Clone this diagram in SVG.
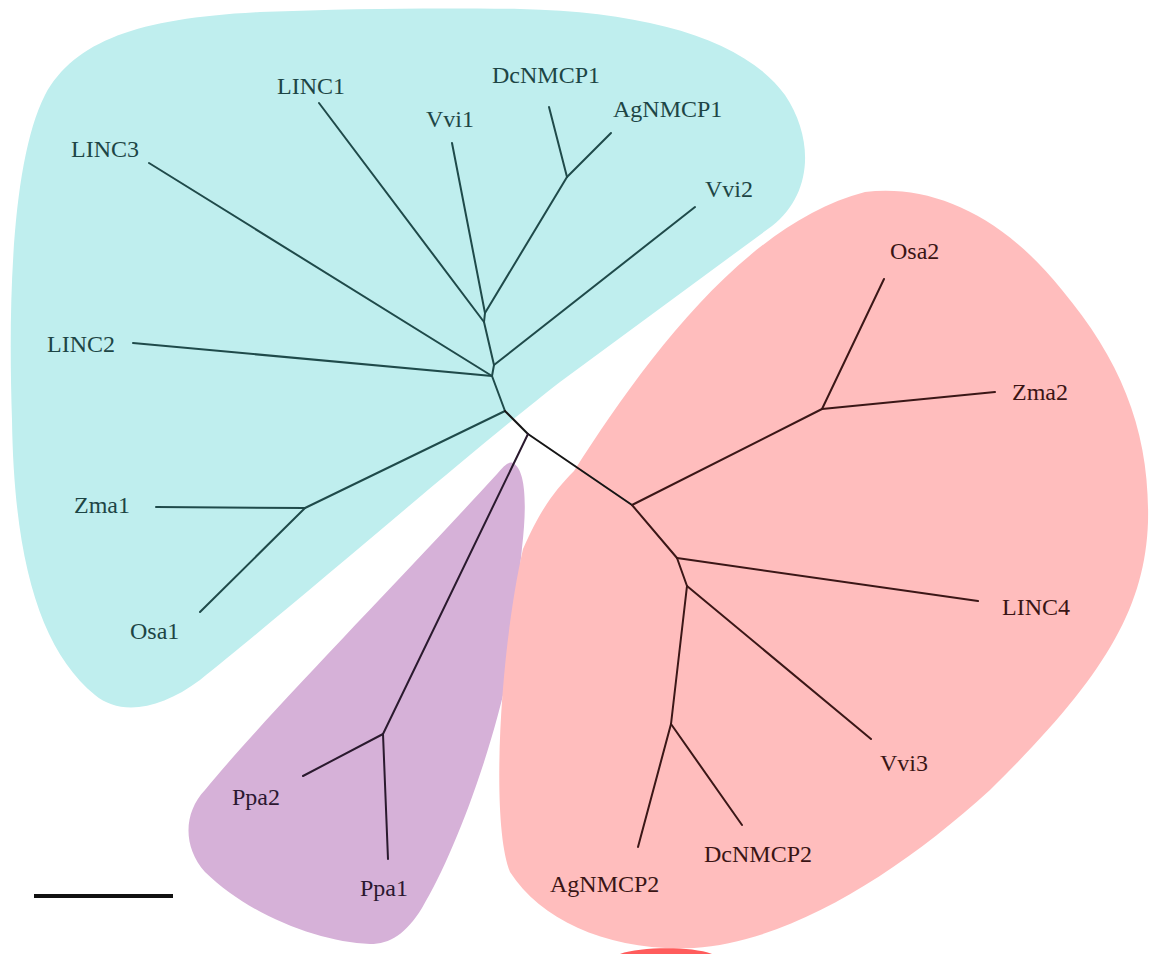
<svg xmlns="http://www.w3.org/2000/svg" width="1150" height="954" viewBox="0 0 1150 954">
<style>
.lbl{font-family:"Liberation Serif","Times New Roman",serif;font-size:24px}
.c{fill:#1d4545}
.r{fill:#3a1515}
.p{fill:#2b1830}
.e{fill:none;stroke-width:2;stroke-linecap:round}
.ec{stroke:#1f4a4a}
.er{stroke:#3b1717}
.ep{stroke:#2a1a2e}
.ek{stroke:#151515}
</style>
<rect width="1150" height="954" fill="#ffffff"/>
<g id="clades">
<path id="cyan-clade" fill="#bfeeee" d="M12,420 C8,300 12,160 45,95 C75,40 140,18 260,12 C360,8 450,8 520,9 C650,12 745,40 785,95 C815,140 812,195 772,226 L560,382 C470,452 300,600 200,680 C160,710 120,716 95,695 C40,650 14,560 12,420 Z"/>
<path id="purple-clade" fill="#d6b1d8" d="M513,463 C526,470 527,505 522,548 L510,665 C490,760 452,858 422,908 C406,934 390,944 370,944 C320,942 250,916 205,872 C182,846 184,812 205,790 C262,720 400,580 497,474 C503,467 508,461 513,463 Z"/>
<path id="red-clade" fill="#ffbdbd" d="M574,471 C640,368 742,224 865,192 C932,184 1002,215 1062,290 C1122,362 1150,432 1148,522 C1145,612 1100,682 990,790 C900,872 790,942 694,948 C612,952 542,922 510,872 C490,822 500,650 523,549 C540,510 555,490 574,471 Z"/>
<path fill="#ff5c5c" d="M620,954 C640,947 690,946 712,954 Z"/>
</g>
<g id="connectors">
<line class="e ec" x1="549" y1="107" x2="567" y2="177"/>
<line class="e ec" x1="611" y1="133" x2="567" y2="177"/>
<line class="e ec" x1="567" y1="177" x2="485" y2="313"/>
<line class="e ec" x1="452" y1="143" x2="485" y2="313"/>
<line class="e ec" x1="485" y1="313" x2="484" y2="322"/>
<line class="e ec" x1="319" y1="103" x2="484" y2="322"/>
<line class="e ec" x1="484" y1="322" x2="494" y2="365"/>
<line class="e ec" x1="695" y1="207" x2="494" y2="365"/>
<line class="e ec" x1="494" y1="365" x2="492" y2="376"/>
<line class="e ec" x1="149" y1="163" x2="492" y2="376"/>
<line class="e ec" x1="133" y1="343" x2="492" y2="376"/>
<line class="e ec" x1="492" y1="376" x2="505" y2="411"/>
<line class="e ec" x1="505" y1="411" x2="305" y2="508"/>
<line class="e ec" x1="156" y1="507" x2="305" y2="508"/>
<line class="e ec" x1="200" y1="612" x2="305" y2="508"/>
<line class="e ek" x1="505" y1="411" x2="528" y2="434"/>
<line class="e ek" x1="528" y1="434" x2="632" y2="505"/>
<line class="e ep" x1="528" y1="434" x2="383" y2="734"/>
<line class="e ep" x1="303" y1="776" x2="383" y2="734"/>
<line class="e ep" x1="388" y1="859" x2="383" y2="734"/>
<line class="e er" x1="632" y1="505" x2="822" y2="409"/>
<line class="e er" x1="884" y1="279" x2="822" y2="409"/>
<line class="e er" x1="995" y1="392" x2="822" y2="409"/>
<line class="e er" x1="632" y1="505" x2="677" y2="558"/>
<line class="e er" x1="978" y1="601" x2="677" y2="558"/>
<line class="e er" x1="677" y1="558" x2="687" y2="586"/>
<line class="e er" x1="871" y1="739" x2="687" y2="586"/>
<line class="e er" x1="687" y1="586" x2="671" y2="724"/>
<line class="e er" x1="638" y1="847" x2="671" y2="724"/>
<line class="e er" x1="742" y1="825" x2="671" y2="724"/>
</g>
<g id="LINC1"><text class="lbl c" x="277" y="94">LINC1</text></g>
<g id="DcNMCP1"><text class="lbl c" x="492" y="83">DcNMCP1</text></g>
<g id="AgNMCP1"><text class="lbl c" x="613" y="117">AgNMCP1</text></g>
<g id="Vvi1"><text class="lbl c" x="426" y="127">Vvi1</text></g>
<g id="LINC3"><text class="lbl c" x="71" y="157">LINC3</text></g>
<g id="Vvi2"><text class="lbl c" x="705" y="197">Vvi2</text></g>
<g id="LINC2"><text class="lbl c" x="47" y="352">LINC2</text></g>
<g id="Zma1"><text class="lbl c" x="74" y="513">Zma1</text></g>
<g id="Osa1"><text class="lbl c" x="130" y="639">Osa1</text></g>
<g id="Ppa2"><text class="lbl p" x="232" y="805">Ppa2</text></g>
<g id="Ppa1"><text class="lbl p" x="360" y="896">Ppa1</text></g>
<g id="Osa2"><text class="lbl r" x="890" y="259">Osa2</text></g>
<g id="Zma2"><text class="lbl r" x="1012" y="400">Zma2</text></g>
<g id="LINC4"><text class="lbl r" x="1002" y="615">LINC4</text></g>
<g id="Vvi3"><text class="lbl r" x="880" y="771">Vvi3</text></g>
<g id="DcNMCP2"><text class="lbl r" x="704" y="862">DcNMCP2</text></g>
<g id="AgNMCP2"><text class="lbl r" x="550" y="892">AgNMCP2</text></g>
<g id="scale-bar"><line x1="34" y1="896" x2="173" y2="896" stroke="#111" stroke-width="4"/></g>
</svg>
